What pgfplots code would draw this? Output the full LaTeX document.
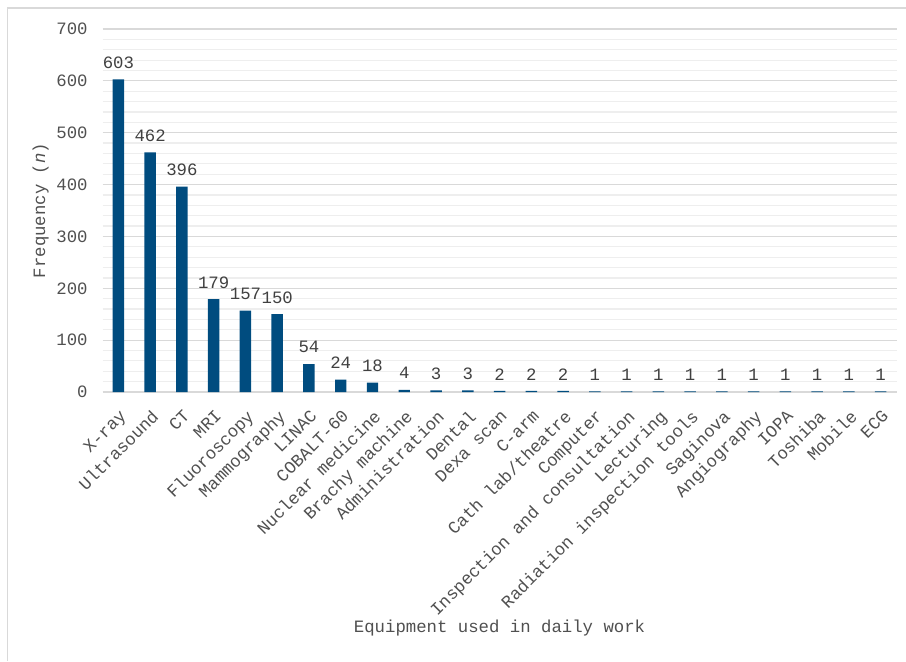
\documentclass[border=0pt]{standalone}
\usepackage{pgfplots}
\pgfplotsset{compat=1.18}
\usepackage{pgfplotstable}
\usepackage{fontspec}
\setmainfont{Liberation Mono}
\definecolor{barblue}{RGB}{0,76,127}
\definecolor{txt}{RGB}{80,80,80}
\definecolor{valtxt}{RGB}{64,64,64}
\definecolor{majgrid}{RGB}{217,217,217}
\definecolor{mingrid}{RGB}{238,238,238}
\definecolor{frame}{RGB}{217,217,217}

\pgfplotstableread{
idx v
0 603
1 462
2 396
3 179
4 157
5 150
6 54
7 24
8 18
9 4
10 3
11 3
12 2
13 2
14 2
15 1
16 1
17 1
18 1
19 1
20 1
21 1
22 1
23 1
24 1
}\equip

\begin{document}
\fontsize{13}{15.5}\selectfont
\begin{tikzpicture}[x=0.75pt,y=0.75pt]
\useasboundingbox (0,0) rectangle (906,661);
\draw[frame, line width=1.1pt] (7.5,0) -- (7.5,653) -- (906,653);
\begin{axis}[
  at={(76.9pt,201.75pt)}, anchor=south west,
  scale only axis,
  width=595.5pt, height=272.25pt,
  ymin=0, ymax=700,
  xmin=-0.5, xmax=24.5,
  ybar, bar width=8.6pt,
  ytick={0,100,...,700},
  minor y tick num=4,
  ymajorgrids, yminorgrids,
  major grid style={majgrid, line width=0.9pt},
  minor grid style={mingrid, line width=0.9pt},
  axis line style={draw=none},
  tick style={draw=none},
  minor tick style={draw=none},
  xtick=data,
  xticklabels={X-ray,Ultrasound,CT,MRI,Fluoroscopy,Mammography,LINAC,COBALT-60,Nuclear medicine,Brachy machine,Administration,Dental,Dexa scan,C-arm,Cath lab/theatre,Computer,Inspection and consultation,Lecturing,Radiation inspection tools,Saginova,Angiography,IOPA,Toshiba,Mobile,ECG},
  xticklabel style={rotate=45, anchor=north east, inner sep=0pt, xshift=-5.5pt, yshift=-6pt, text=txt, font=\fontsize{13}{15.5}\selectfont},
  yticklabel style={anchor=east, inner sep=0pt, xshift=-11pt, text=txt, font=\fontsize{13}{15.5}\selectfont},
  /pgf/number format/assume math mode=true,
  /pgf/number format/1000 sep={},
  xlabel={Equipment used in daily work},
  ylabel={Frequency (\textit{n})},
  xlabel style={at={(axis description cs:0.5,0)}, anchor=center, yshift=-177pt, text=txt, font=\fontsize{13}{15.5}\selectfont},
  ylabel style={at={(axis description cs:0,0.5)}, anchor=center, yshift=46.5pt, text=txt, font=\fontsize{13}{15.5}\selectfont},
  nodes near coords,
  every node near coord/.append style={text=valtxt, font=\fontsize{13}{15.5}\selectfont, inner sep=0pt, yshift=8pt},
  clip=false,
]
\addplot[fill=barblue, draw=none] table[x=idx, y=v] {\equip};
\end{axis}
\end{tikzpicture}
\end{document}
